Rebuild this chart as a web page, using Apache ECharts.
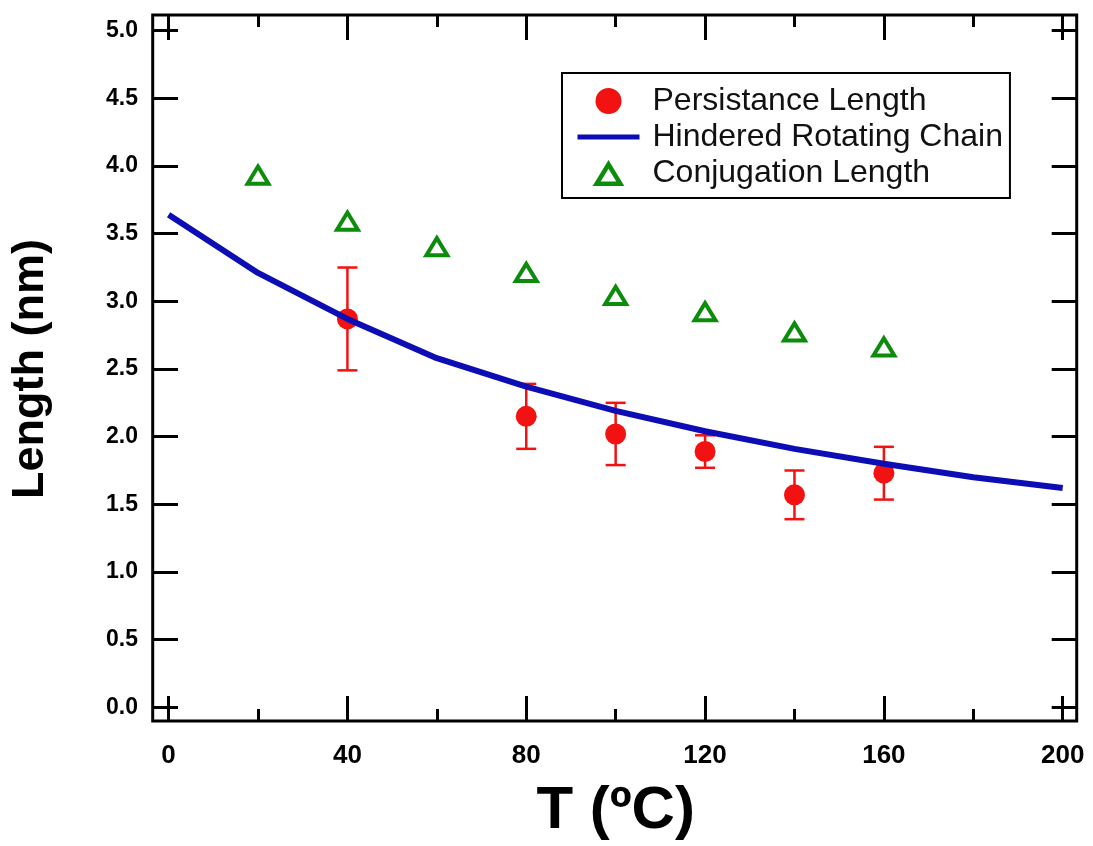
<!DOCTYPE html>
<html><head><meta charset="utf-8">
<script src="https://cdn.jsdelivr.net/npm/echarts@6/dist/echarts.min.js"></script>
<style>html,body{margin:0;padding:0;background:#fff}#c{width:1093px;height:846px}</style>
</head><body><div id="c"></div>
<script>
// Hindered rotating chain (model curve)
const lineT = [0, 20, 40, 60, 80, 100, 120, 140, 160, 180, 200];
const lineL = [3.64, 3.21, 2.87, 2.58, 2.37, 2.19, 2.04, 1.91, 1.80, 1.70, 1.62];
// Persistance length with error bars
const persT = [40, 80, 100, 120, 140, 160];
const persL = [2.87, 2.15, 2.02, 1.89, 1.57, 1.73];
const persErr = [0.38, 0.24, 0.23, 0.12, 0.18, 0.195];
// Conjugation length
const conjT = [20, 40, 60, 80, 100, 120, 140, 160];
const conjL = [3.94, 3.60, 3.41, 3.22, 3.05, 2.93, 2.78, 2.67];
// Axis ranges / ticks
const xMin = 0, xMax = 200, xStep = 40;
const yMin = 0, yMax = 5, yStep = 0.5;

const FONT = 'Liberation Sans, Arial, Helvetica, sans-serif';
const RED = '#f21212', BLUE = '#0d0db5', GREEN = '#0b8c0b';
// hollow triangle marker (outer minus inner)
const TRI = 'path://M14,0 L28,23 L0,23 Z M14,7.7 L7.1,19 L20.9,19 Z';

const chart = echarts.init(document.getElementById('c'), null, {renderer: 'canvas'});

const tickCommon = {show: true, inside: true, length: 25, lineStyle: {color: '#000', width: 3}};
const minorCommon = {show: true, splitNumber: 2, length: 12, lineStyle: {color: '#000', width: 3}};

function xAxis(pos, offset, showLabel) {
  return {
    type: 'value', position: pos, offset: offset, min: xMin, max: xMax, interval: xStep,
    axisLine: {show: false, onZero: false}, axisTick: tickCommon, minorTick: minorCommon,
    splitLine: {show: false}, minorSplitLine: {show: false},
    axisLabel: {show: showLabel, margin: 22, fontSize: 26, fontWeight: 'bold', color: '#000', fontFamily: FONT},
    name: showLabel ? 'T (ºC)' : '', nameLocation: 'middle', nameGap: 60,
    nameTextStyle: {fontSize: 60, fontWeight: 'bold', color: '#000', fontFamily: FONT}
  };
}
function yAxis(pos, offset, showLabel) {
  return {
    type: 'value', position: pos, offset: offset, min: yMin, max: yMax, interval: yStep,
    axisLine: {show: false, onZero: false}, axisTick: tickCommon, splitLine: {show: false},
    axisLabel: {show: showLabel, margin: 15, fontSize: 23, fontWeight: 'bold', color: '#000', fontFamily: FONT,
      formatter: v => v.toFixed(1)},
    name: showLabel ? 'Length (nm)' : '', nameLocation: 'middle', nameGap: 100,
    nameTextStyle: {fontSize: 45, fontWeight: 'bold', color: '#000', fontFamily: FONT}
  };
}

const errData = persT.map((t, i) => [t, persL[i] - persErr[i], persL[i] + persErr[i]]);

chart.setOption({
  animation: false,
  backgroundColor: '#fff',
  grid: {left: 168.3, right: 30.3, top: 30.7, bottom: 138.7, containLabel: false},
  xAxis: [xAxis('bottom', 13.7, true), xAxis('top', 15.7, false)],
  yAxis: [yAxis('left', 15.6, true), yAxis('right', 14, false)],
  legend: {
    orient: 'vertical', left: 562, top: 73,
    padding: [10, 7, 7, 13],
    itemWidth: 62, itemHeight: 26, itemGap: 0,
    borderColor: '#000', borderWidth: 2,
    textStyle: {fontSize: 32, color: '#111', fontFamily: FONT, lineHeight: 36, padding: [0, 0, 0, 8]},
    data: [
      {name: 'Persistance Length'},
      {name: 'Hindered Rotating Chain', itemStyle: {opacity: 0}, lineStyle: {width: 5, color: BLUE}},
      {name: 'Conjugation Length', icon: TRI, itemStyle: {color: GREEN, borderWidth: 0}}
    ]
  },
  graphic: [{
    type: 'rect', z: 100,
    shape: {x: 152.7, y: 15, width: 924, height: 706},
    style: {fill: 'none', stroke: '#000', lineWidth: 3}
  }],
  series: [
    {
      type: 'custom', name: 'err', xAxisIndex: 0, yAxisIndex: 0, z: 2,
      data: errData,
      renderItem: function (params, api) {
        const x = api.value(0);
        const lo = api.coord([x, api.value(1)]);
        const hi = api.coord([x, api.value(2)]);
        const w = 10;
        const st = {stroke: RED, lineWidth: 2.5};
        return {type: 'group', children: [
          {type: 'line', shape: {x1: lo[0], y1: lo[1], x2: hi[0], y2: hi[1]}, style: st},
          {type: 'line', shape: {x1: lo[0] - w, y1: lo[1], x2: lo[0] + w, y2: lo[1]}, style: st},
          {type: 'line', shape: {x1: hi[0] - w, y1: hi[1], x2: hi[0] + w, y2: hi[1]}, style: st}
        ]};
      }
    },
    {
      type: 'scatter', name: 'Persistance Length', z: 3,
      symbol: 'circle', symbolSize: 21,
      itemStyle: {color: RED, opacity: 1},
      data: persT.map((t, i) => [t, persL[i]])
    },
    {
      type: 'line', name: 'Hindered Rotating Chain', z: 4,
      symbol: 'none', showSymbol: false, clip: false,
      lineStyle: {color: BLUE, width: 6},
      itemStyle: {color: BLUE},
      data: lineT.map((t, i) => [t, lineL[i]])
    },
    {
      type: 'scatter', name: 'Conjugation Length', z: 5,
      symbol: TRI, symbolSize: [28, 23],
      itemStyle: {color: GREEN, opacity: 1},
      data: conjT.map((t, i) => [t, conjL[i]])
    }
  ]
});
</script>
</body></html>
